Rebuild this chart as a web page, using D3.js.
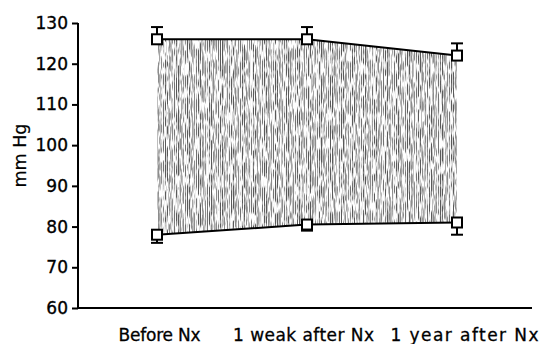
<!DOCTYPE html>
<html>
<head>
<meta charset="utf-8">
<script src="https://cdn.jsdelivr.net/npm/d3@7"></script>
<style>
  html, body { margin: 0; padding: 0; background: #fff; }
  svg { display: block; }
  text { font-family: "DejaVu Sans", sans-serif; fill: #000; }
</style>
</head>
<body>
<svg id="chart" width="548" height="344"></svg>
<script>
// Blood pressure before and after nephrectomy (mean ± SEM)
const categories = ["Before Nx", "1 weak after Nx", "1 year after Nx"];
const systolic = [126, 126, 122];
const systolicErr = [3, 3, 3];
const diastolic = [78, 80.5, 81];
const diastolicErr = [2, 1.5, 3];
const yTicks = [60, 70, 80, 90, 100, 110, 120, 130];

// Label typesetting: rendered widths and horizontal nudges of the category labels
const labelWidths = [82, 141, 148];
const labelNudge = [2, -4, 7];

const svg = d3.select("#chart");

const x = d3.scalePoint().domain(categories).range([157, 457]);
const y = d3.scaleLinear().domain([60, 130]).range([308, 23]);

// Stippled vertical-line fill for the pulse-pressure band
const defs = svg.append("defs");
const pat = defs.append("pattern")
  .attr("id", "vlines")
  .attr("patternUnits", "userSpaceOnUse")
  .attr("width", 2.2).attr("height", 10);
pat.append("rect").attr("width", 2.2).attr("height", 10).attr("fill", "#fff");
pat.append("rect").attr("x", 0).attr("width", 1.1).attr("height", 10).attr("fill", "#4a4a4a");

const grain = defs.append("filter")
  .attr("id", "grain")
  .attr("x", 0).attr("y", 0).attr("width", 1).attr("height", 1);
grain.append("feTurbulence")
  .attr("type", "fractalNoise")
  .attr("baseFrequency", "0.7 0.08")
  .attr("numOctaves", 2)
  .attr("seed", 7)
  .attr("result", "noise");
grain.append("feColorMatrix")
  .attr("in", "noise")
  .attr("type", "matrix")
  .attr("values", "0 0 0 0 0  0 0 0 0 0  0 0 0 0 0  6 0 0 0 -2.3")
  .attr("result", "mask");
grain.append("feComposite")
  .attr("in", "SourceGraphic")
  .attr("in2", "mask")
  .attr("operator", "in");

const bandData = categories.map((c, i) => ({ c, hi: systolic[i], lo: diastolic[i] }));

const area = d3.area()
  .x(d => x(d.c))
  .y0(d => y(d.lo))
  .y1(d => y(d.hi));

svg.append("path")
  .datum(bandData)
  .attr("d", area)
  .attr("fill", "url(#vlines)")
  .attr("filter", "url(#grain)");

// Axes
const yAxis = d3.axisLeft(y).tickValues(yTicks).tickSize(6).tickPadding(4);
const gy = svg.append("g").attr("transform", "translate(78,0)").call(yAxis);
gy.select(".domain").attr("stroke", "#000").attr("stroke-width", 2)
  .attr("d", `M0,${y(130)}V${y(60)}`);
gy.selectAll(".tick line").attr("stroke", "#000").attr("stroke-width", 2);
gy.selectAll(".tick text")
  .attr("font-size", 17).attr("font-family", "DejaVu Sans, sans-serif")
  .attr("stroke", "#000").attr("stroke-width", 0.35);

svg.append("line")
  .attr("x1", 77).attr("x2", 532)
  .attr("y1", y(60)).attr("y2", y(60))
  .attr("stroke", "#000").attr("stroke-width", 2);

const xAxis = d3.axisBottom(x).tickSize(0).tickPadding(21);
const gx = svg.append("g").attr("transform", `translate(0,${y(60)})`).call(xAxis);
gx.select(".domain").remove();
gx.selectAll(".tick text")
  .attr("font-size", 17).attr("font-family", "DejaVu Sans, sans-serif")
  .attr("stroke", "#000").attr("stroke-width", 0.3)
  .attr("dx", (d, i) => labelNudge[i])
  .attr("textLength", (d, i) => labelWidths[i])
  .attr("lengthAdjust", "spacing");

svg.append("text")
  .attr("transform", `translate(26,${(y(130) + y(60)) / 2 - 10}) rotate(-90)`)
  .attr("text-anchor", "middle")
  .attr("font-size", 17.5)
  .attr("stroke", "#000").attr("stroke-width", 0.2)
  .text("mm Hg");

// Series lines, error bars and markers
function drawSeries(vals, errs, dir) {
  const pts = categories.map((c, i) => ({ c, v: vals[i], e: errs[i] }));
  svg.append("path")
    .datum(pts)
    .attr("d", d3.line().x(d => x(d.c)).y(d => y(d.v)))
    .attr("fill", "none")
    .attr("stroke", "#000")
    .attr("stroke-width", 2);

  const eb = svg.append("g").selectAll("g").data(pts).join("g");
  eb.append("line")
    .attr("x1", d => x(d.c)).attr("x2", d => x(d.c))
    .attr("y1", d => y(d.v)).attr("y2", d => y(d.v + dir * d.e))
    .attr("stroke", "#000").attr("stroke-width", 2);
  eb.append("line")
    .attr("x1", d => x(d.c) - 6).attr("x2", d => x(d.c) + 6)
    .attr("y1", d => y(d.v + dir * d.e)).attr("y2", d => y(d.v + dir * d.e))
    .attr("stroke", "#000").attr("stroke-width", 2);

  svg.append("g").selectAll("rect").data(pts).join("rect")
    .attr("x", d => x(d.c) - 5).attr("y", d => y(d.v) - 5)
    .attr("width", 10).attr("height", 10)
    .attr("fill", "#fff").attr("stroke", "#000").attr("stroke-width", 2);
}

drawSeries(systolic, systolicErr, 1);
drawSeries(diastolic, diastolicErr, -1);
</script>
</body>
</html>
